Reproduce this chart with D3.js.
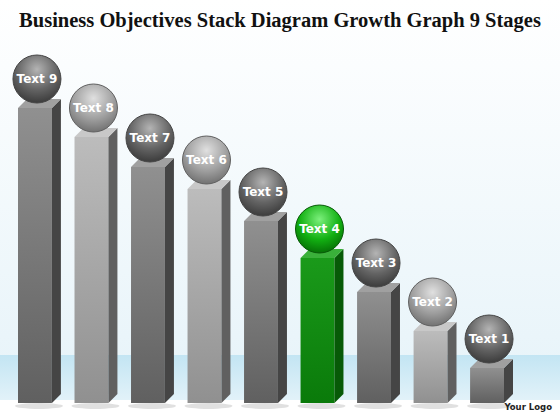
<!DOCTYPE html>
<html>
<head>
<meta charset="utf-8">
<script src="https://cdn.jsdelivr.net/npm/d3@7"></script>
<style>
body { margin: 0; }
svg { display: block; }
</style>
</head>
<body>
<script>
var labels = ["Text 9", "Text 8", "Text 7", "Text 6", "Text 5", "Text 4", "Text 3", "Text 2", "Text 1"];
var values = [295, 266, 236, 214, 182, 145, 111, 72, 35];
var tones = ["dark", "light", "dark", "light", "dark", "green", "dark", "light", "dark"];

var _width = 560, _height = 420;
var baseY = 403, depth = 9, barW = 33;

var svg = d3.select("body").append("svg")
    .attr("width", _width).attr("height", _height);
var defs = svg.append("defs");

var bg = defs.append("linearGradient").attr("id", "bg").attr("x1", 0).attr("y1", 0).attr("x2", 0).attr("y2", 1);
bg.append("stop").attr("offset", "0").attr("stop-color", "#ffffff");
bg.append("stop").attr("offset", "0.8").attr("stop-color", "#eaf5fa");
bg.append("stop").attr("offset", "1").attr("stop-color", "#e4f2f8");
svg.append("rect").attr("width", _width).attr("height", _height).attr("fill", "url(#bg)");

var band = defs.append("linearGradient").attr("id", "band").attr("x1", 0).attr("y1", 0).attr("x2", 0).attr("y2", 1);
band.append("stop").attr("offset", "0").attr("stop-color", "#c3e5f3");
band.append("stop").attr("offset", "1").attr("stop-color", "#e2f2f9");
svg.append("rect").attr("y", 355).attr("width", _width).attr("height", 45).attr("fill", "url(#band)");
svg.append("rect").attr("y", 400).attr("width", _width).attr("height", 20).attr("fill", "#ffffff");

// colour sets per tone
var palette = {
    dark:  {front: ["#909090", "#606060"], side: "#454545", top: "#a0a0a0", ball: ["#b4b4b4", "#646464", "#3c3c3c"]},
    light: {front: ["#bcbcbc", "#909090"], side: "#606060", top: "#c8c8c8", ball: ["#e0e0e0", "#a0a0a0", "#727272"]},
    green: {front: ["#1a9a1a", "#0a7a0a"], side: "#075a07", top: "#3ab03a", ball: ["#7cf07c", "#12b012", "#067006"]}
};
Object.keys(palette).forEach(function (k) {
    var p = palette[k];
    var g = defs.append("linearGradient").attr("id", "front-" + k).attr("x1", 0).attr("y1", 0).attr("x2", 0).attr("y2", 1);
    g.append("stop").attr("offset", "0").attr("stop-color", p.front[0]);
    g.append("stop").attr("offset", "1").attr("stop-color", p.front[1]);
    var r = defs.append("radialGradient").attr("id", "ball-" + k)
        .attr("cx", "0.5").attr("cy", "0.3").attr("r", "0.7");
    r.append("stop").attr("offset", "0").attr("stop-color", p.ball[0]);
    r.append("stop").attr("offset", "0.6").attr("stop-color", p.ball[1]);
    r.append("stop").attr("offset", "1").attr("stop-color", p.ball[2]);
});

var x = d3.scaleBand().domain(labels).range([18, 504]).paddingInner(0.4).paddingOuter(0);
var y = d3.scaleLinear().domain([0, 300]).range([baseY, baseY - 300]);
barW = x.bandwidth();

svg.append("text").attr("x", 280).attr("y", 27).attr("text-anchor", "middle")
    .attr("font-family", "Liberation Serif, Times New Roman, serif")
    .attr("font-weight", "bold").attr("font-size", 20.5).attr("fill", "#111")
    .text("Business Objectives Stack Diagram Growth Graph 9 Stages");

var bars = svg.selectAll("g.bar").data(labels).enter().append("g").attr("class", "bar");

// shadows
bars.append("ellipse")
    .attr("cx", function (d) { return x(d) + barW / 2 + 4; })
    .attr("cy", baseY + 3).attr("rx", 24).attr("ry", 3)
    .attr("fill", "#000").attr("opacity", 0.12);

bars.append("rect")
    .attr("x", function (d) { return x(d); })
    .attr("y", function (d, i) { return y(values[i]); })
    .attr("width", barW)
    .attr("height", function (d, i) { return baseY - y(values[i]); })
    .attr("fill", function (d, i) { return "url(#front-" + tones[i] + ")"; });

bars.append("path")
    .attr("d", function (d, i) {
        var x0 = x(d) + barW, t = y(values[i]);
        return "M" + x0 + "," + t + "L" + (x0 + depth) + "," + (t - depth) +
            "L" + (x0 + depth) + "," + (baseY - depth) + "L" + x0 + "," + baseY + "Z";
    })
    .attr("fill", function (d, i) { return palette[tones[i]].side; });

bars.append("path")
    .attr("d", function (d, i) {
        var x0 = x(d), t = y(values[i]);
        return "M" + x0 + "," + t + "L" + (x0 + depth) + "," + (t - depth) +
            "L" + (x0 + barW + depth) + "," + (t - depth) + "L" + (x0 + barW) + "," + t + "Z";
    })
    .attr("fill", function (d, i) { return palette[tones[i]].top; });

bars.append("circle")
    .attr("cx", function (d) { return x(d) + barW / 2 + 2; })
    .attr("cy", function (d, i) { return y(values[i]) - 29; })
    .attr("r", 24)
    .attr("fill", function (d, i) { return "url(#ball-" + tones[i] + ")"; })
    .attr("stroke", function (d, i) { return palette[tones[i]].side; })
    .attr("stroke-width", 1);

bars.append("text")
    .attr("x", function (d) { return x(d) + barW / 2 + 2; })
    .attr("y", function (d, i) { return y(values[i]) - 29; })
    .attr("dy", "0.35em").attr("text-anchor", "middle")
    .attr("font-family", "DejaVu Sans, sans-serif").attr("font-weight", "bold")
    .attr("font-size", 12).attr("fill", "#fff")
    .text(function (d) { return d; });

svg.append("text").attr("x", 552).attr("y", 410).attr("text-anchor", "end")
    .attr("font-family", "DejaVu Sans, sans-serif").attr("font-weight", "bold")
    .attr("font-size", 8.5).attr("fill", "#222").text("Your Logo");
</script>
</body>
</html>
